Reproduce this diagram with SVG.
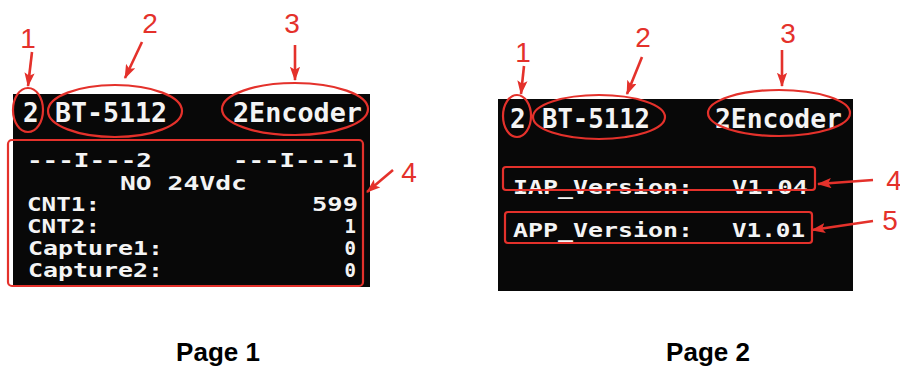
<svg xmlns="http://www.w3.org/2000/svg" width="900" height="372" viewBox="0 0 900 372">
<defs>
<style>
.scr{fill:#080808}
.hd{font-family:"DejaVu Sans Mono","Liberation Mono",monospace;font-weight:bold;font-size:26px;fill:#f4f4f4}
.bd{font-family:"DejaVu Sans Mono","Liberation Mono",monospace;font-weight:bold;font-size:19px;fill:#f4f4f4}
.mk{fill:none;stroke:#e4312b;stroke-width:2.2}
.num{font-family:"Liberation Sans","Noto Sans",sans-serif;font-size:28px;fill:#e4312b;text-anchor:middle}
.arr{stroke:#e4312b;stroke-width:2.6;fill:none;marker-end:url(#ah)}
.pg{font-family:"Liberation Sans",Arial,sans-serif;font-weight:bold;font-size:26px;fill:#000;text-anchor:middle}
</style>
<marker id="ah" viewBox="0 0 14 10" refX="13" refY="5" markerWidth="5.5" markerHeight="4" orient="auto" markerUnits="strokeWidth">
<path d="M0,0 L14,5 L0,10 L3,5 Z" fill="#e4312b"/>
</marker>
</defs>
<rect width="900" height="372" fill="#fff"/>

<g id="page1">
<rect class="scr" x="13" y="94" width="357" height="193"/>
<text class="hd" x="23" y="122">2</text>
<text class="hd" x="55" y="122" textLength="112" lengthAdjust="spacingAndGlyphs">BT-5112</text>
<text class="hd" x="233" y="122" textLength="129" lengthAdjust="spacingAndGlyphs">2Encoder</text>
<text class="bd" x="27" y="167" textLength="125" lengthAdjust="spacingAndGlyphs">---I---2</text>
<text class="bd" x="233" y="167" textLength="124" lengthAdjust="spacingAndGlyphs">---I---1</text>
<text class="bd" x="120" y="190" textLength="127" lengthAdjust="spacingAndGlyphs">NO 24Vdc</text>
<text class="bd" x="27" y="211" textLength="73" lengthAdjust="spacingAndGlyphs">CNT1:</text>
<text class="bd" x="312" y="211" textLength="46" lengthAdjust="spacingAndGlyphs">599</text>
<text class="bd" x="27" y="233" textLength="73" lengthAdjust="spacingAndGlyphs">CNT2:</text>
<text class="bd" x="356" y="233" text-anchor="end">1</text>
<text class="bd" x="28" y="255" textLength="135" lengthAdjust="spacingAndGlyphs">Capture1:</text>
<text class="bd" x="356" y="255" text-anchor="end">0</text>
<text class="bd" x="28" y="277" textLength="135" lengthAdjust="spacingAndGlyphs">Capture2:</text>
<text class="bd" x="356" y="277" text-anchor="end">0</text>
</g>

<g id="page1-marks">
<ellipse class="mk" cx="28" cy="110" rx="15" ry="22"/>
<ellipse class="mk" cx="115" cy="111" rx="67" ry="26"/>
<ellipse class="mk" cx="295" cy="109" rx="73" ry="26"/>
<rect class="mk" x="8" y="140" width="355" height="146" rx="4"/>
<text class="num" x="28" y="48">1</text>
<text class="num" x="150" y="33">2</text>
<text class="num" x="292" y="33">3</text>
<text class="num" x="409" y="182">4</text>
</g>

<g id="page2">
<rect class="scr" x="498" y="99" width="355" height="192"/>
<text class="hd" x="510" y="128">2</text>
<text class="hd" x="542" y="128" textLength="108" lengthAdjust="spacingAndGlyphs">BT-5112</text>
<text class="hd" x="715" y="128" textLength="127" lengthAdjust="spacingAndGlyphs">2Encoder</text>
<text class="bd" x="513" y="194" textLength="180" lengthAdjust="spacingAndGlyphs">IAP_Version:</text>
<text class="bd" x="732" y="194" textLength="76" lengthAdjust="spacingAndGlyphs">V1.04</text>
<text class="bd" x="513" y="237" textLength="180" lengthAdjust="spacingAndGlyphs">APP_Version:</text>
<text class="bd" x="732" y="237" textLength="73" lengthAdjust="spacingAndGlyphs">V1.01</text>
</g>

<g id="page2-marks">
<ellipse class="mk" cx="517" cy="116" rx="14" ry="21"/>
<ellipse class="mk" cx="599" cy="117" rx="66" ry="22"/>
<ellipse class="mk" cx="779" cy="113" rx="71" ry="23"/>
<rect class="mk" x="503" y="167" width="312" height="23" rx="3"/>
<rect class="mk" x="505" y="212" width="307" height="31" rx="3"/>
<text class="num" x="523" y="62">1</text>
<text class="num" x="643" y="47">2</text>
<text class="num" x="788" y="43">3</text>
<text class="num" x="894" y="190">4</text>
<text class="num" x="890" y="230">5</text>
</g>

<g id="connectors">
<line class="arr" x1="32" y1="52" x2="28" y2="86"/>
<line class="arr" x1="142" y1="42" x2="125" y2="78"/>
<line class="arr" x1="295" y1="45" x2="295" y2="80"/>
<line class="arr" x1="393" y1="170" x2="367" y2="192"/>
<line class="arr" x1="524" y1="66" x2="521" y2="94"/>
<line class="arr" x1="642" y1="57" x2="627" y2="94"/>
<line class="arr" x1="782" y1="50" x2="782" y2="86"/>
<line class="arr" x1="873" y1="180" x2="818" y2="184"/>
<line class="arr" x1="873" y1="221" x2="812" y2="230"/>
</g>

<g id="captions">
<text class="pg" x="218" y="361">Page 1</text>
<text class="pg" x="708" y="361">Page 2</text>
</g>
</svg>
